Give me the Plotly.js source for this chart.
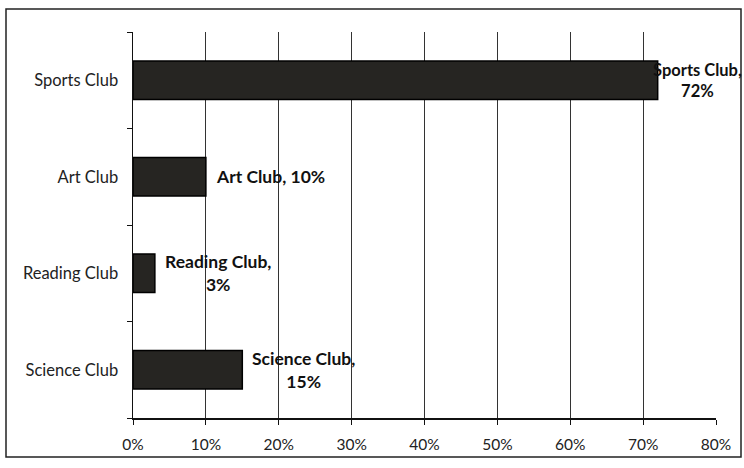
<!DOCTYPE html>
<html><head><meta charset="utf-8">
<script src="https://cdn.plot.ly/plotly-3.0.1.min.js"></script>
<style>html,body{margin:0;padding:0;background:#fff}#c{width:744px;height:468px}</style>
</head><body><div id="c"></div>
<script>
var clubs = ["Science Club", "Reading Club", "Art Club", "Sports Club"];
var shares = [15, 3, 10, 72];
var labelText = ["Science Club,<br>15%", "Reading Club,<br>3%", "Art Club, 10%", "Sports Club,<br>72%"];
var xTicks = [0, 10, 20, 30, 40, 50, 60, 70, 80];
var xTickText = xTicks.map(function(v){return v + "%";});

var W = 744, H = 468, L = 133, R = 28, T = 32, B = 50;
var pw = W - L - R, ph = H - T - B;

var annotations = clubs.map(function(c, i){
  var big = shares[i] > 60;
  return {
    x: shares[i], y: c, xref: "x", yref: "y",
    text: labelText[i], showarrow: false,
    xanchor: "left", yanchor: "middle", align: "center",
    xshift: big ? -7 : 8,
    font: {family: "Lato, 'Open Sans', sans-serif", size: big ? 16.5 : 17.5, color: "#111", weight: "bold"}
  };
});

var trace = {
  type: "bar", orientation: "h",
  x: shares, y: clubs,
  marker: {color: "#262522", line: {color: "#000", width: 1.5}},
  hoverinfo: "skip"
};

var layout = {
  width: W, height: H,
  margin: {l: L, r: R, t: T, b: B, pad: 0},
  paper_bgcolor: "#fff", plot_bgcolor: "#fff",
  showlegend: false,
  bargap: 0.6,
  font: {family: "Lato, 'Open Sans', sans-serif", size: 16, color: "#222"},
  xaxis: {
    range: [0, 80], tickvals: xTicks, ticktext: xTickText,
    showgrid: true, gridcolor: "#333", gridwidth: 1,
    showline: true, linecolor: "#111", linewidth: 1.5,
    ticks: "outside", ticklen: 5, tickcolor: "#111",
    ticklabelstandoff: 7, zeroline: false,
    tickfont: {size: 15.5, color: "#222"}
  },
  yaxis: {
    categoryorder: "array", categoryarray: clubs,
    showline: true, linecolor: "#111", linewidth: 1.5,
    ticks: "outside", ticklen: 5, tickcolor: "#111",
    tickson: "boundaries", ticklabelstandoff: 10,
    tickfont: {size: 16.5, color: "#222"},
    showgrid: false, zeroline: false
  },
  annotations: annotations,
  shapes: [{
    type: "rect", xref: "paper", yref: "paper",
    x0: (6 - L) / pw, x1: (741 - L) / pw,
    y0: (H - B - 457) / ph, y1: (H - B - 9) / ph,
    line: {color: "#222", width: 1.5}, fillcolor: "rgba(0,0,0,0)", layer: "below"
  }]
};

Plotly.newPlot("c", [trace], layout, {displayModeBar: false, staticPlot: true});
</script></body></html>
